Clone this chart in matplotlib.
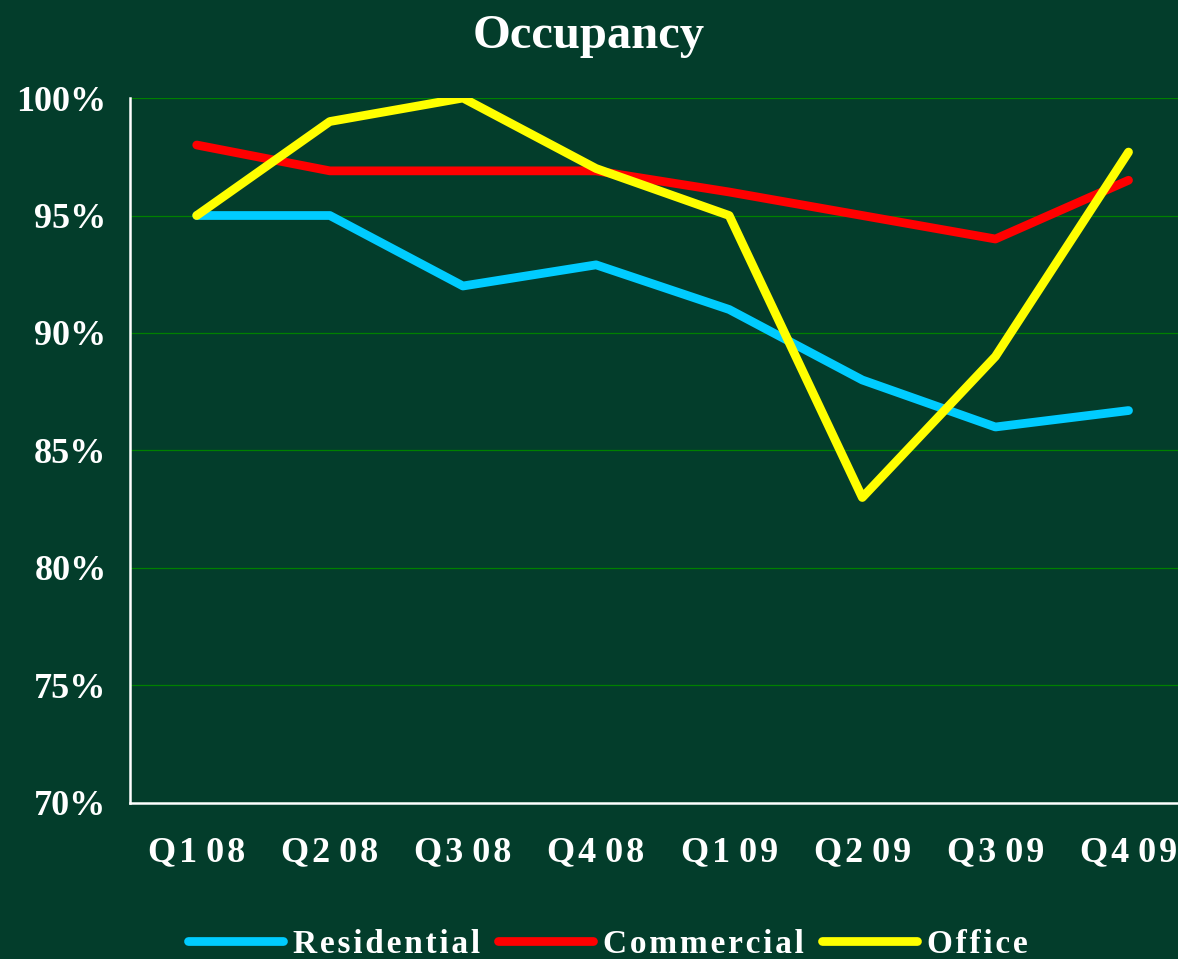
import matplotlib
matplotlib.use("Agg")
import matplotlib.pyplot as plt
from matplotlib.ticker import FuncFormatter

quarters = ["Q1 08", "Q2 08", "Q3 08", "Q4 08", "Q1 09", "Q2 09", "Q3 09", "Q4 09"]
residential = [95.0, 95.0, 92.0, 92.9, 91.0, 88.0, 86.0, 86.7]
commercial = [98.0, 96.9, 96.9, 96.9, 96.0, 95.0, 94.0, 96.5]
office = [95.0, 99.0, 100.0, 97.0, 95.0, 83.0, 89.0, 97.7]
series_names = ["Residential", "Commercial", "Office"]
yticks = [70, 75, 80, 85, 90, 95, 100]

HS = "\u200a"


def spaced(s):
    out = ""
    for i, ch in enumerate(s):
        out += ch
        if i < len(s) - 1 and ch != " " and s[i + 1] != " ":
            out += HS
    return out


bg = "#033D2B"
plt.rcParams['font.family'] = ['Liberation Serif', 'DejaVu Serif']
plt.rcParams['font.weight'] = 'bold'

fig = plt.figure(figsize=(11.78, 9.59), dpi=100, facecolor=bg)
ax = fig.add_axes([0.1105, 0.1627, 0.904, 0.7351], facecolor=bg)

x = list(range(len(quarters)))
lw = 6.3
colors = ["#00CCFF", "#FF0000", "#FFFF00"]
for i, (vals, name, c) in enumerate(zip([residential, commercial, office], series_names, colors)):
    ax.plot(x, vals, color=c, lw=lw, solid_capstyle='round', solid_joinstyle='round',
            label=spaced(name), zorder=3 + i)

ax.set_xlim(-0.5, 7.5)
ax.set_ylim(70, 100)
ax.set_yticks(yticks)
ax.yaxis.set_major_formatter(FuncFormatter(lambda v, p: f"{int(v)}%"))
ax.set_xticks(x)
ax.set_xticklabels([spaced(q) for q in quarters])
ax.grid(axis='y', color="#008000", lw=0.9, zorder=1)
ax.set_axisbelow(True)
ax.tick_params(axis='both', length=0, colors='white', labelsize=26)
ax.tick_params(axis='x', pad=24)
ax.tick_params(axis='y', pad=17)
for lab in ax.get_xticklabels() + ax.get_yticklabels():
    lab.set_fontweight('bold')
    lab.set_color('white')
for s in ['top', 'right']:
    ax.spines[s].set_visible(False)
for s in ['left', 'bottom']:
    ax.spines[s].set_color('white')
    ax.spines[s].set_linewidth(1.8)
    ax.spines[s].set_zorder(6)

fig.text(0.5, 1 - 36 / 959, "Occupancy", ha='center', va='center', color='white',
         fontsize=35, fontweight='bold')

leg = fig.legend(loc='center', bbox_to_anchor=(0.516, 0.015), ncol=3, frameon=False,
                 handlelength=2.85, handletextpad=0.3, columnspacing=0.55,
                 prop={'size': 24, 'weight': 'bold'})
for t in leg.get_texts():
    t.set_color('white')

fig.savefig("out.png", dpi=100, facecolor=bg)
